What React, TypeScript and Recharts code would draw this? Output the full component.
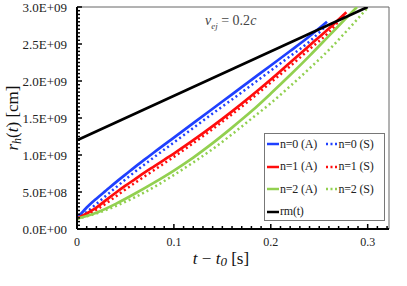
import { LineChart, Line, XAxis, YAxis, ReferenceLine, Legend, Label } from "recharts";

const n0A = [
  { t: 0, r: 1.4e8 }, { t: 0.01, r: 2.9e8 }, { t: 0.02, r: 4.1e8 }, { t: 0.03, r: 5.2e8 },
  { t: 0.04, r: 6.3e8 }, { t: 0.05, r: 7.35e8 }, { t: 0.06, r: 8.4e8 }, { t: 0.07, r: 9.4e8 },
  { t: 0.08, r: 1.04e9 }, { t: 0.1, r: 1.235e9 }, { t: 0.12, r: 1.43e9 }, { t: 0.14, r: 1.625e9 },
  { t: 0.16, r: 1.82e9 }, { t: 0.18, r: 2.015e9 }, { t: 0.2, r: 2.21e9 }, { t: 0.22, r: 2.405e9 },
  { t: 0.24, r: 2.605e9 }, { t: 0.258, r: 2.8e9 },
];
const n0S = [
  { t: 0, r: 1.4e8 }, { t: 0.01, r: 2.3e8 }, { t: 0.02, r: 3.4e8 }, { t: 0.03, r: 4.5e8 },
  { t: 0.04, r: 5.6e8 }, { t: 0.05, r: 6.7e8 }, { t: 0.06, r: 7.75e8 }, { t: 0.07, r: 8.75e8 },
  { t: 0.08, r: 9.75e8 }, { t: 0.1, r: 1.17e9 }, { t: 0.12, r: 1.365e9 }, { t: 0.14, r: 1.56e9 },
  { t: 0.16, r: 1.75e9 }, { t: 0.18, r: 1.945e9 }, { t: 0.2, r: 2.14e9 }, { t: 0.22, r: 2.335e9 },
  { t: 0.24, r: 2.535e9 }, { t: 0.255, r: 2.72e9 },
];
const n1A = [
  { t: 0, r: 1.4e8 }, { t: 0.01, r: 2.1e8 }, { t: 0.02, r: 2.9e8 }, { t: 0.03, r: 3.9e8 },
  { t: 0.04, r: 4.9e8 }, { t: 0.05, r: 5.85e8 }, { t: 0.06, r: 6.75e8 }, { t: 0.07, r: 7.65e8 },
  { t: 0.08, r: 8.5e8 }, { t: 0.09, r: 9.35e8 }, { t: 0.1, r: 1.02e9 }, { t: 0.12, r: 1.2e9 },
  { t: 0.14, r: 1.39e9 }, { t: 0.16, r: 1.59e9 }, { t: 0.18, r: 1.8e9 }, { t: 0.2, r: 2.02e9 },
  { t: 0.22, r: 2.25e9 }, { t: 0.24, r: 2.48e9 }, { t: 0.26, r: 2.71e9 }, { t: 0.278, r: 2.93e9 },
];
const n1S = [
  { t: 0, r: 1.4e8 }, { t: 0.01, r: 1.9e8 }, { t: 0.02, r: 2.6e8 }, { t: 0.03, r: 3.45e8 },
  { t: 0.04, r: 4.4e8 }, { t: 0.05, r: 5.35e8 }, { t: 0.06, r: 6.25e8 }, { t: 0.08, r: 8.0e8 },
  { t: 0.1, r: 9.75e8 }, { t: 0.12, r: 1.16e9 }, { t: 0.14, r: 1.35e9 }, { t: 0.16, r: 1.55e9 },
  { t: 0.18, r: 1.76e9 }, { t: 0.2, r: 1.98e9 }, { t: 0.22, r: 2.2e9 }, { t: 0.24, r: 2.43e9 },
  { t: 0.26, r: 2.66e9 }, { t: 0.276, r: 2.9e9 },
];
const n2A = [
  { t: 0, r: 1.4e8 }, { t: 0.02, r: 2.2e8 }, { t: 0.04, r: 3.4e8 }, { t: 0.06, r: 4.8e8 },
  { t: 0.08, r: 6.3e8 }, { t: 0.1, r: 7.9e8 }, { t: 0.12, r: 9.65e8 }, { t: 0.14, r: 1.16e9 },
  { t: 0.16, r: 1.37e9 }, { t: 0.18, r: 1.59e9 }, { t: 0.2, r: 1.83e9 }, { t: 0.22, r: 2.08e9 },
  { t: 0.24, r: 2.34e9 }, { t: 0.26, r: 2.61e9 }, { t: 0.28, r: 2.88e9 }, { t: 0.289, r: 3.0e9 },
];
const n2S = [
  { t: 0, r: 1.4e8 }, { t: 0.02, r: 2.1e8 }, { t: 0.04, r: 3.1e8 }, { t: 0.06, r: 4.3e8 },
  { t: 0.08, r: 5.7e8 }, { t: 0.1, r: 7.3e8 }, { t: 0.12, r: 9.0e8 }, { t: 0.14, r: 1.08e9 },
  { t: 0.16, r: 1.28e9 }, { t: 0.18, r: 1.49e9 }, { t: 0.2, r: 1.7e9 }, { t: 0.22, r: 1.93e9 },
  { t: 0.24, r: 2.17e9 }, { t: 0.26, r: 2.42e9 }, { t: 0.28, r: 2.7e9 }, { t: 0.3, r: 2.99e9 },
];
const rm = [{ t: 0, r: 1.2e9 }, { t: 0.3, r: 3.0e9 }];

const series = [
  { name: "n=0 (A)", data: n0A, color: "#1f40ff", dotted: false },
  { name: "n=0 (S)", data: n0S, color: "#1f40ff", dotted: true },
  { name: "n=1 (A)", data: n1A, color: "#ff0d0d", dotted: false },
  { name: "n=1 (S)", data: n1S, color: "#ff0d0d", dotted: true },
  { name: "n=2 (A)", data: n2A, color: "#92d050", dotted: false },
  { name: "n=2 (S)", data: n2S, color: "#92d050", dotted: true },
  { name: "rm(t)", data: rm, color: "#000000", dotted: false },
];

const xMajor = [0, 0.1, 0.2, 0.3];
const xMajorLabels = ["0", "0.1", "0.2", "0.3"];
const xTicks = Array.from({ length: 33 }, (_, i) => i / 100);
const yTicks = Array.from({ length: 61 }, (_, i) => i * 5e7);

const FONT = "Liberation Serif, Times New Roman, serif";
const W = 407;
const H = 286;

const fmtY = (v: number) => {
  if (v === 0) return "0.0E+00";
  const e = Math.floor(Math.log10(v) + 1e-9);
  const m = v / Math.pow(10, e);
  return `${m.toFixed(1)}E+${String(e).padStart(2, "0")}`;
};

const XTick = (props: any) => {
  const { x, y, payload } = props;
  const idx = xMajor.findIndex((m) => Math.abs(m - payload.value) < 1e-6);
  const major = idx >= 0;
  return (
    <g>
      <line x1={x} x2={x} y1={y} y2={y - (major ? 5 : 3)} stroke="#000" strokeWidth={1.5} />
      {major && (
        <text x={x} y={y + 17} textAnchor="middle" style={{ fontFamily: FONT }} fontSize={12} fill="#222">
          {xMajorLabels[idx]}
        </text>
      )}
    </g>
  );
};

const YTick = (props: any) => {
  const { x, y, payload } = props;
  const major = Math.abs(payload.value / 5e8 - Math.round(payload.value / 5e8)) < 1e-6;
  return (
    <g>
      <line x1={x} x2={x + (major ? 5 : 3)} y1={y} y2={y} stroke="#000" strokeWidth={1.5} />
      {major && (
        <text x={x - 10} y={y + 4.5} textAnchor="end" style={{ fontFamily: FONT }} fontSize={13} fill="#222">
          {fmtY(payload.value)}
        </text>
      )}
    </g>
  );
};

const XTitle = (props: any) => {
  const { viewBox } = props;
  const cx = viewBox.x + viewBox.width / 2 - 12;
  return (
    <text x={cx} y={viewBox.y + 35} textAnchor="middle" style={{ fontFamily: FONT }} fontSize={17} fill="#111">
      <tspan fontStyle="italic">t</tspan>
      <tspan> − </tspan>
      <tspan fontStyle="italic">t</tspan>
      <tspan fontStyle="italic" fontSize={13} dy={2}>0</tspan>
      <tspan dy={-2}> [s]</tspan>
    </text>
  );
};

const YTitle = (props: any) => {
  const { viewBox } = props;
  const cy = viewBox.y + viewBox.height / 2;
  return (
    <text
      x={18}
      y={cy}
      transform={`rotate(-90 18 ${cy})`}
      textAnchor="middle"
      style={{ fontFamily: FONT }}
      fontSize={17}
      fill="#111"
    >
      <tspan fontStyle="italic">r</tspan>
      <tspan fontStyle="italic" fontSize={12} dy={3}>h</tspan>
      <tspan dy={-3}>(</tspan>
      <tspan fontStyle="italic">t</tspan>
      <tspan>) [cm]</tspan>
    </text>
  );
};

const Sample = ({ color, dotted }: { color: string; dotted: boolean }) => (
  <svg width={12} height={6} style={{ display: "block", marginRight: 1 }}>
    <line
      x1={0}
      x2={12}
      y1={3}
      y2={3}
      stroke={color}
      strokeWidth={2.5}
      strokeDasharray={dotted ? "2 2.5" : undefined}
    />
  </svg>
);

const LegendBox = () => {
  const rows = [
    [series[0], series[1]],
    [series[2], series[3]],
    [series[4], series[5]],
    [series[6]],
  ];
  return (
    <div
      style={{
        width: 121,
        height: 88,
        border: "1px solid #777",
        background: "#fff",
        fontFamily: FONT,
        fontSize: 12,
        color: "#222",
        paddingLeft: 2,
        boxSizing: "border-box",
      }}
    >
      {rows.map((row, i) => (
        <div key={i} style={{ display: "flex", alignItems: "center", height: 22.5, marginTop: i === 0 ? -1 : 0 }}>
          {row.map((s) => (
            <div key={s.name} style={{ display: "flex", alignItems: "center", width: 60 }}>
              <Sample color={s.color} dotted={s.dotted} />
              <span style={{ whiteSpace: "nowrap", letterSpacing: -0.2 }}>{s.name}</span>
            </div>
          ))}
        </div>
      ))}
    </div>
  );
};

export default function App() {
  return (
    <div style={{ position: "absolute", left: 0, top: 0, width: W, height: H, background: "#fff" }}>
      <LineChart width={W} height={H} margin={{ top: 7, right: 18, bottom: 7, left: 7 }}>
        <XAxis
          type="number"
          dataKey="t"
          domain={[0, 0.322]}
          ticks={xTicks}
          interval={0}
          tick={<XTick />}
          tickLine={false}
          tickSize={0}
          tickMargin={0}
          axisLine={{ stroke: "#000", strokeWidth: 2 }}
          height={50}
          allowDataOverflow
        >
          <Label content={<XTitle />} />
        </XAxis>
        <YAxis
          type="number"
          dataKey="r"
          domain={[0, 3e9]}
          ticks={yTicks}
          interval={0}
          tick={<YTick />}
          tickLine={false}
          tickSize={0}
          tickMargin={0}
          axisLine={{ stroke: "#000", strokeWidth: 2 }}
          width={70}
          allowDataOverflow
        >
          <Label content={<YTitle />} />
        </YAxis>
        <ReferenceLine y={3e9} stroke="#666" strokeWidth={1} />
        <ReferenceLine x={0.322} stroke="#666" strokeWidth={1} />
        {series.map((s) => (
          <Line
            key={s.name}
            data={s.data}
            dataKey="r"
            name={s.name}
            type="monotone"
            stroke={s.color}
            strokeWidth={s.dotted ? 2.5 : 2.7}
            strokeDasharray={s.dotted ? "2 3" : undefined}
            strokeLinecap="butt"
            dot={false}
            activeDot={false}
            isAnimationActive={false}
          />
        ))}
        <Legend
          layout="horizontal"
          verticalAlign="middle"
          align="center"
          content={<LegendBox />}
          wrapperStyle={{ position: "absolute", left: 264, top: 133, width: 121, height: 88 }}
        />
      </LineChart>
      <div
        style={{
          position: "absolute",
          left: 205,
          top: 13,
          fontFamily: FONT,
          fontSize: 14,
          color: "#444",
          whiteSpace: "nowrap",
        }}
      >
        <i>v</i>
        <sub style={{ fontSize: 9, fontStyle: "italic" }}>ej</sub> = 0.2<i>c</i>
      </div>
    </div>
  );
}
